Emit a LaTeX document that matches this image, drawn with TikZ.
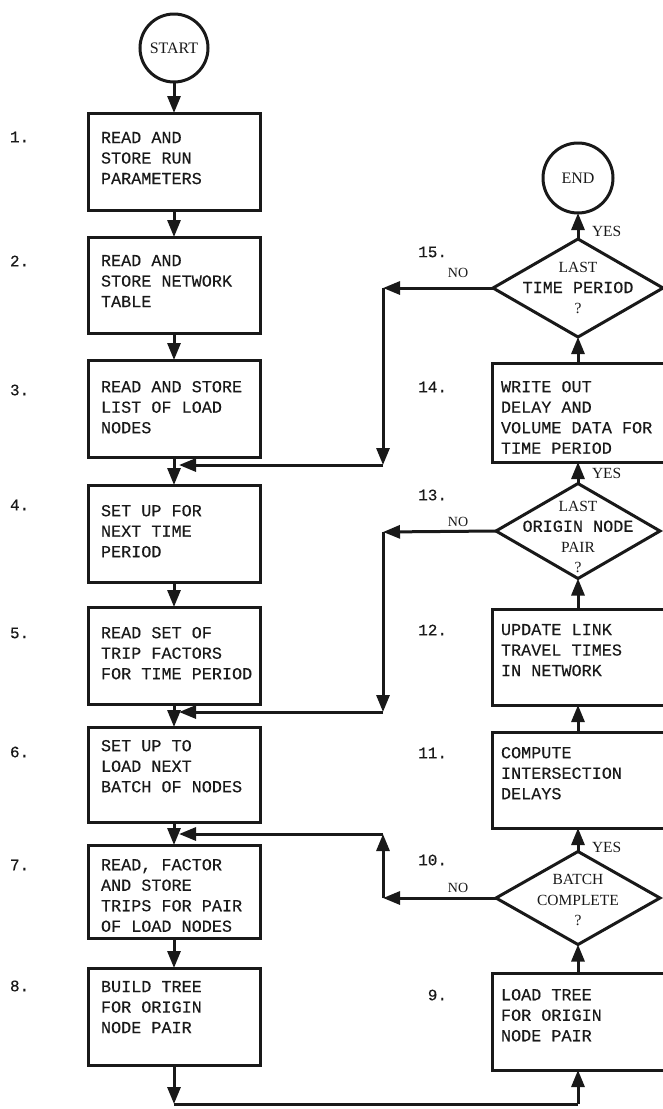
\documentclass[tikz,border=0pt]{standalone}
\usepackage{fontspec}
\setmainfont{Liberation Serif}
\setmonofont{Liberation Mono}
\newfontfamily\twfam[FakeBold=0.3]{Liberation Mono}
\usetikzlibrary{arrows.meta,shapes.geometric}
\newcommand\twfont{\fontsize{16.8}{20.5}\selectfont\twfam}
\newcommand\twtext[1]{{\twfont #1}}
\begin{document}
\begin{tikzpicture}[x=1pt,y=-1pt,
  every node/.style={inner sep=0pt, outer sep=0pt, text=black!90},
  box/.style={draw=black!90, line width=3pt, rectangle, minimum width=172pt, minimum height=#1, anchor=north west},
  dia/.style={draw=black!90, line width=3pt, diamond, minimum width=#1},
  term/.style={draw=black!90, line width=3pt, circle, minimum size=#1, font=\fontsize{16}{18}\selectfont},
  btxt/.style={anchor=north west, align=left, font=\twfont},
  dtxt/.style={align=center, font=\fontsize{15.5}{20.5}\selectfont},
  num/.style={font=\fontsize{16}{20}\selectfont\twfam},
  lbl/.style={font=\fontsize{15.5}{18}\selectfont},
  nolbl/.style={font=\fontsize{14}{16}\selectfont},
  line/.style={draw=black!90, line width=3pt},
  arr/.style={line, -{Triangle[width=13pt,length=17pt]}}
]
\useasboundingbox (0,0) rectangle (663,1109);

% ---------- left column ----------
\node[term=68pt] (start) at (174,48) {START};
\node[box=97pt] (b1) at (88,113) {};
\node[box=96pt] (b2) at (88,237) {};
\node[box=97pt] (b3) at (88,360) {};
\node[box=97pt] (b4) at (88,485) {};
\node[box=97pt] (b5) at (88,607) {};
\node[box=95pt] (b6) at (88,727) {};
\node[box=93pt] (b7) at (88,845) {};
\node[box=97pt] (b8) at (88,968) {};

\node[btxt] (t1) at ([xshift=13pt,yshift=-19pt]b1.north west) {READ AND\\STORE RUN\\PARAMETERS};
\node[btxt] (t2) at ([xshift=13pt,yshift=-18pt]b2.north west) {READ AND\\STORE NETWORK\\TABLE};
\node[btxt] (t3) at ([xshift=13pt,yshift=-21pt]b3.north west) {READ AND STORE\\LIST OF LOAD\\NODES};
\node[btxt] (t4) at ([xshift=13pt,yshift=-20pt]b4.north west) {SET UP FOR\\NEXT TIME\\PERIOD};
\node[btxt] (t5) at ([xshift=13pt,yshift=-20pt]b5.north west) {READ SET OF\\TRIP FACTORS\\FOR TIME PERIOD};
\node[btxt] (t6) at ([xshift=13pt,yshift=-13pt]b6.north west) {SET UP TO\\LOAD NEXT\\BATCH OF NODES};
\node[btxt] (t7) at ([xshift=13pt,yshift=-14pt]b7.north west) {READ, FACTOR\\AND STORE\\TRIPS FOR PAIR\\OF LOAD NODES};
\node[btxt] (t8) at ([xshift=13pt,yshift=-13pt]b8.north west) {BUILD TREE\\FOR ORIGIN\\NODE PAIR};

\node[num, anchor=west] (n1) at (10,137) {1.};
\node[num, anchor=west] (n2) at (10,261) {2.};
\node[num, anchor=west] (n3) at (10,390) {3.};
\node[num, anchor=west] (n4) at (10,505) {4.};
\node[num, anchor=west] (n5) at (10,633) {5.};
\node[num, anchor=west] (n6) at (10,752) {6.};
\node[num, anchor=west] (n7) at (10,865) {7.};
\node[num, anchor=west] (n8) at (10,986) {8.};

% ---------- right column ----------
\node[term=70pt] (end) at (578,178) {END};
\node[dia=170pt, minimum height=98pt] (d15) at (578,288) {};
\node[box=99pt] (b14) at (492,363) {};
\node[dia=164pt, minimum height=95pt] (d13) at (578,531) {};
\node[box=96pt] (b12) at (492,609) {};
\node[box=96pt] (b11) at (492,732) {};
\node[dia=164pt, minimum height=93pt] (d10) at (578,898) {};
\node[box=97pt] (b9) at (492,973) {};

\node[dtxt] (t15) at (578,288) {LAST\\\twtext{TIME PERIOD}\\?};
\node[dtxt] (t13) at (578,537) {LAST\\\twtext{ORIGIN NODE}\\PAIR\\?};
\node[dtxt] (t10) at (578,900) {BATCH\\COMPLETE\\?};

\node[btxt] (t14) at ([xshift=9pt,yshift=-18pt]b14.north west) {WRITE OUT\\DELAY AND\\VOLUME DATA FOR\\TIME PERIOD};
\node[btxt] (t12) at ([xshift=9pt,yshift=-15pt]b12.north west) {UPDATE LINK\\TRAVEL TIMES\\IN NETWORK};
\node[btxt] (t11) at ([xshift=9pt,yshift=-15pt]b11.north west) {COMPUTE\\INTERSECTION\\DELAYS};
\node[btxt] (t9) at ([xshift=9pt,yshift=-16pt]b9.north west) {LOAD TREE\\FOR ORIGIN\\NODE PAIR};

\node[num, anchor=east] (n15) at (447,252) {15.};
\node[num, anchor=east] (n14) at (447,387) {14.};
\node[num, anchor=east] (n13) at (447,495) {13.};
\node[num, anchor=east] (n12) at (447,630) {12.};
\node[num, anchor=east] (n11) at (447,753) {11.};
\node[num, anchor=east] (n10) at (447,860) {10.};
\node[num, anchor=east] (n9) at (447,995) {9.};

\node[lbl, anchor=west] (y15) at (592,231) {YES};
\node[lbl, anchor=west] (y13) at (592,473) {YES};
\node[lbl, anchor=west] (y10) at (592,847) {YES};
\node[nolbl] (no15) at (458,273) {NO};
\node[nolbl] (no13) at (458,522) {NO};
\node[nolbl] (no10) at (458,888) {NO};

% ---------- main flow ----------
\draw[arr] (start.south) -- (b1.north);
\draw[arr] (b1.south) -- (b2.north);
\draw[arr] (b2.south) -- (b3.north);
\draw[arr] (b3.south) -- (b4.north);
\draw[arr] (b4.south) -- (b5.north);
\draw[arr] (b5.south) -- (b6.north);
\draw[arr] (b6.south) -- (b7.north);
\draw[arr] (b7.south) -- (b8.north);

\coordinate (bl) at (174,1104);
\coordinate (br) at (578,1104);
\draw[line] (bl) -- (br);
\draw[arr] (b8.south) -- (bl);
\draw[arr] (br) -- (b9.south);

\draw[arr] (b9.north) -- (d10.south);
\draw[arr] (d10.north) -- (b11.south);
\draw[arr] (b11.north) -- (b12.south);
\draw[arr] (b12.north) -- (d13.south);
\draw[arr] (d13.north) -- (b14.south);
\draw[arr] (b14.north) -- (d15.south);
\draw[arr] (d15.north) -- (end.south);

% ---------- loops ----------
\coordinate (c15a) at (383,288);
\coordinate (c15b) at (383,465);
\coordinate (j4) at (179,465);
\draw[arr] (d15.west) -- (c15a);
\draw[arr] (c15a) -- (c15b);
\draw[arr] (c15b) -- (j4);

\coordinate (c13a) at (383,532);
\coordinate (c13b) at (383,712);
\coordinate (j6) at (179,712);
\draw[arr] (d13.west) -- (c13a);
\draw[arr] (c13a) -- (c13b);
\draw[arr] (c13b) -- (j6);

\coordinate (c10a) at (383,898);
\coordinate (c10b) at (383,834);
\coordinate (j7) at (179,834);
\draw[arr] (d10.west) -- (c10a);
\draw[arr] (c10a) -- (c10b);
\draw[arr] (c10b) -- (j7);
\end{tikzpicture}
\end{document}
